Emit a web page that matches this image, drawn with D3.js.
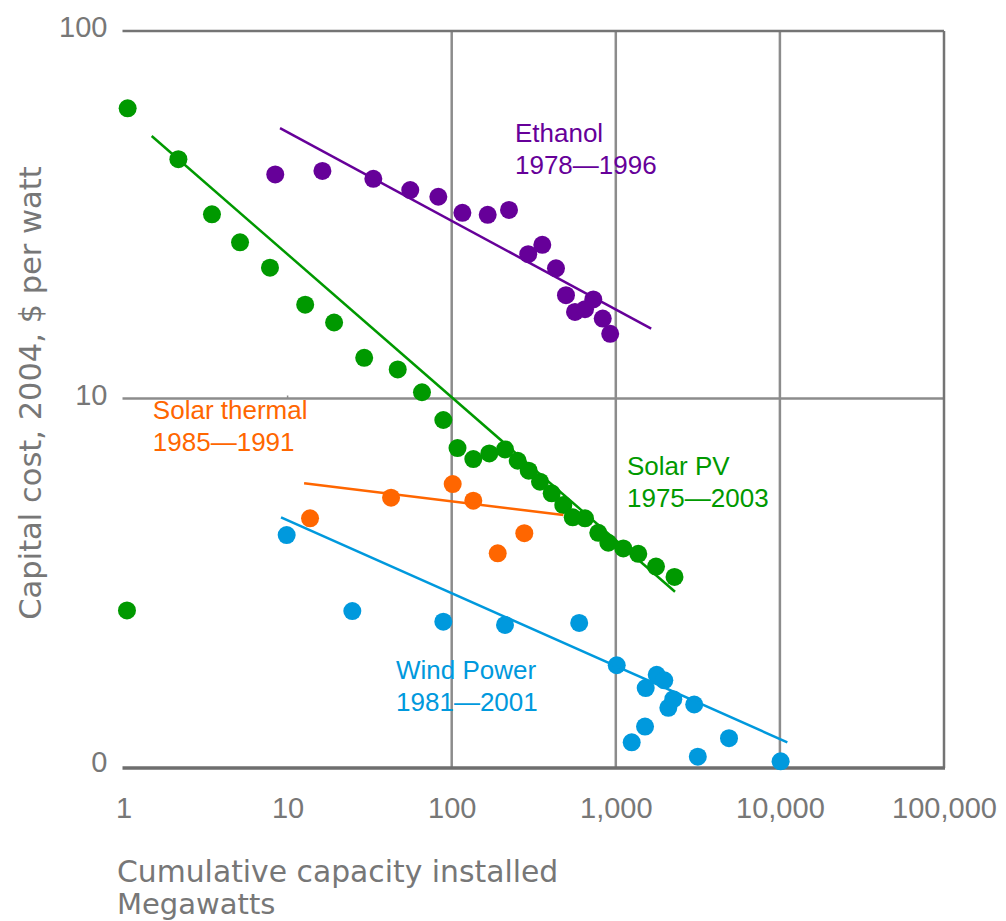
<!DOCTYPE html>
<html>
<head>
<meta charset="utf-8">
<script src="https://cdn.jsdelivr.net/npm/d3@7"></script>
<style>
  body { margin: 0; background: #fff; }
  svg { display: block; }
</style>
</head>
<body>
<main></main>
<script>
//Learning curves - capital cost vs cumulative capacity (log-log)

// Solar PV 1975-2003
const pvCapacity = [1.06, 2.16, 3.46, 5.13, 7.81, 12.8, 19.2, 29.3, 46.9, 65.9, 88.9, 108.5, 135.4, 169.5, 211.3,
                    252.5, 294.6, 345.2, 406.8, 478.6, 546.3, 649.2, 782.2, 900.1, 1111, 1371, 1758, 2279, 1.05];
const pvCost     = [61.6, 44.8, 31.7, 26.6, 22.7, 18.0, 16.1, 12.9, 12.0, 10.4, 8.74, 7.33, 6.84, 7.09, 7.27,
                    6.77, 6.36, 5.94, 5.52, 5.13, 4.75, 4.72, 4.31, 4.05, 3.91, 3.78, 3.49, 3.27, 2.65];

// Ethanol 1978-1996
const ethCapacity = [8.41, 16.3, 33.3, 55.9, 82.9, 116.2, 165.7, 223.5, 292.6, 356.5, 432.1, 497.1, 564.1, 649.2, 729.3, 832.3, 924.6];
const ethCost     = [40.7, 41.6, 39.6, 36.9, 35.4, 32.0, 31.6, 32.6, 24.7, 26.2, 22.6, 19.1, 17.2, 17.5, 18.6, 16.5, 15.0];

// Solar thermal 1985-1991
const stCapacity = [13.7, 42.7, 101.4, 135.4, 190.7, 277.0];
const stCost     = [4.72, 5.37, 5.85, 5.27, 3.79, 4.30];

// Wind power 1981-2001
const windCapacity = [9.87, 24.8, 88.9, 211.3, 598.4, 1013, 1250, 1507, 1521, 1775, 1975, 2089, 2240, 3005, 3160, 4896, 10100];
const windCost     = [4.25, 2.64, 2.47, 2.42, 2.45, 1.88, 1.16, 1.28, 1.63, 1.77, 1.71, 1.44, 1.52, 1.47, 1.06, 1.19, 1.03];

// Fitted trend lines: [capacity, cost] at both ends
const pvTrend   = [[1.485, 51.8], [2295, 2.98]];
const ethTrend  = [[8.99, 54.4], [1643, 15.5]];
const stTrend   = [[12.6, 5.88], [479.3, 4.82]];
const windTrend = [[9.12, 4.75], [11100, 1.16]];

// Series names and labels
const seriesNames  = ["Ethanol", "Solar thermal", "Solar PV", "Wind Power"];
const seriesYears  = ["1978\u20141996", "1985\u20141991", "1975\u20142003", "1981\u20142001"];
const labelAnchorX = [243, 1.51, 1170, 45.8];
const labelAnchorY = [50, 8.80, 6.19, 1.72];

// Axes
const xTicks = [1, 10, 100, 1000, 10000, 100000];
const xTickLabels = ["1", "10", "100", "1,000", "10,000", "100,000"];
const yTicks = [1, 10, 100];
const yTickLabels = ["0", "10", "100"];
const xGrid = [100, 1000, 10000];
const yGrid = [10];

//Plot parameters
const w = 1006;
const h = 921;
const colors = ["#660099", "#ff6600", "#009900", "#0099dd"];
const gridColor = "#8c8c8c";
const frameColor = "#747474";
const textGray = "#777";
const r = 9;

const series = [
	{ cap: ethCapacity,  cost: ethCost,  trend: ethTrend },
	{ cap: stCapacity,   cost: stCost,   trend: stTrend },
	{ cap: pvCapacity,   cost: pvCost,   trend: pvTrend },
	{ cap: windCapacity, cost: windCost, trend: windTrend }
];

//Scale
const xScale = d3.scaleLog()
				 .domain([1, 100000])
				 .range([123.5, 944]);

const yScale = d3.scaleLog()
				 .domain([1, 100])
				 .range([766, 31]);

const svg = d3.select("main")
			  .append("svg")
			  .attr("width", w)
			  .attr("height", h);

svg.append("rect")
   .attr("width", w)
   .attr("height", h)
   .attr("fill", "#fff");

//Grid
svg.selectAll(".vgrid")
   .data(xGrid)
   .enter()
   .append("line")
   .attr("class", "vgrid")
   .attr("x1", d => xScale(d))
   .attr("x2", d => xScale(d))
   .attr("y1", yScale(100))
   .attr("y2", yScale(1) + 2)
   .attr("stroke", gridColor)
   .attr("stroke-width", 2.5);

svg.selectAll(".hgrid")
   .data(yGrid)
   .enter()
   .append("line")
   .attr("class", "hgrid")
   .attr("x1", xScale(1) - 1)
   .attr("x2", xScale(100000))
   .attr("y1", d => yScale(d))
   .attr("y2", d => yScale(d))
   .attr("stroke", gridColor)
   .attr("stroke-width", 2.5);

// tiny tick at 10 on the 10 line
svg.append("line")
   .attr("x1", xScale(10))
   .attr("x2", xScale(10))
   .attr("y1", yScale(10) - 3)
   .attr("y2", yScale(10))
   .attr("stroke", gridColor)
   .attr("stroke-width", 1.5);

//Frame: top, right, bottom
svg.append("line")
   .attr("x1", xScale(1) - 1)
   .attr("x2", xScale(100000))
   .attr("y1", yScale(100))
   .attr("y2", yScale(100))
   .attr("stroke", frameColor)
   .attr("stroke-width", 2.5);

svg.append("line")
   .attr("x1", xScale(100000))
   .attr("x2", xScale(100000))
   .attr("y1", yScale(100))
   .attr("y2", yScale(1) + 2)
   .attr("stroke", frameColor)
   .attr("stroke-width", 2.5);

svg.append("line")
   .attr("x1", xScale(1) - 1)
   .attr("x2", xScale(100000) + 1)
   .attr("y1", yScale(1) + 2)
   .attr("y2", yScale(1) + 2)
   .attr("stroke", "#6e6e6e")
   .attr("stroke-width", 3.5);

//Axes (labels only)
const x_axis = d3.axisBottom(xScale)
				 .tickValues(xTicks)
				 .tickFormat((d, i) => xTickLabels[i])
				 .tickSize(0)
				 .tickPadding(31);

const y_axis = d3.axisLeft(yScale)
				 .tickValues(yTicks)
				 .tickFormat((d, i) => yTickLabels[i])
				 .tickSize(0)
				 .tickPadding(16);

const gx = svg.append("g")
			  .attr("id", "x-axis")
			  .attr("transform", "translate(0," + yScale(1) + ")")
			  .call(x_axis);

const gy = svg.append("g")
			  .attr("id", "y-axis")
			  .attr("transform", "translate(" + xScale(1) + ",0)")
			  .call(y_axis);

[gx, gy].forEach(g => {
	g.select(".domain").remove();
	g.selectAll("text")
	 .attr("fill", textGray)
	 .style("font-family", "'Liberation Sans', Arial, sans-serif")
	 .style("font-size", "29px");
});
gy.selectAll("text").attr("dy", "0.2em");

//Axis titles
svg.append("text")
   .attr("x", 117)
   .attr("y", 882)
   .attr("fill", textGray)
   .style("font-family", "'DejaVu Sans', sans-serif")
   .style("font-size", "29.8px")
   .text("Cumulative capacity installed");

svg.append("text")
   .attr("x", 117)
   .attr("y", 914)
   .attr("fill", textGray)
   .style("font-family", "'DejaVu Sans', sans-serif")
   .style("font-size", "29px")
   .text("Megawatts");

svg.append("text")
   .attr("text-anchor", "middle")
   .attr("transform", "translate(41,393) rotate(-90)")
   .attr("fill", textGray)
   .style("font-family", "'DejaVu Sans', sans-serif")
   .style("font-size", "30.5px")
   .text("Capital cost, 2004, $ per watt");

//Dots
series.forEach((s, k) => {
	svg.append("g")
	   .selectAll("circle")
	   .data(s.cap.map((c, i) => [c, s.cost[i]]))
	   .enter()
	   .append("circle")
	   .attr("cx", d => xScale(d[0]))
	   .attr("cy", d => yScale(d[1]))
	   .attr("r", r)
	   .attr("fill", colors[k]);
});

//Trend lines
const line = d3.line()
			   .x(d => xScale(d[0]))
			   .y(d => yScale(d[1]));

series.forEach((s, k) => {
	svg.append("path")
	   .datum(s.trend)
	   .attr("d", line)
	   .attr("fill", "none")
	   .attr("stroke", colors[k])
	   .attr("stroke-width", 2.5);
});

//Series labels
seriesNames.forEach((name, k) => {
	const t = svg.append("text")
				 .attr("x", xScale(labelAnchorX[k]))
				 .attr("y", yScale(labelAnchorY[k]))
				 .attr("fill", colors[k])
				 .style("font-family", "'Liberation Sans', Arial, sans-serif")
				 .style("font-size", "26px");
	t.append("tspan")
	 .attr("x", xScale(labelAnchorX[k]))
	 .text(name);
	t.append("tspan")
	 .attr("x", xScale(labelAnchorX[k]))
	 .attr("dy", 32)
	 .text(seriesYears[k]);
});
</script>
</body>
</html>
